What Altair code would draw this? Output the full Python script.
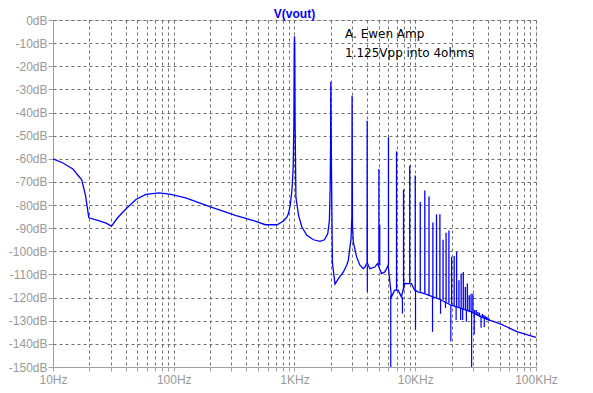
import altair as alt
import pandas as pd

# ---- continuous FFT trace (Hz, dB) ----
trace_freq = [10, 12.1, 14.6, 17.3, 18.6, 19.8, 23.5, 27.5, 30.5, 34.3,
              40.3, 48.6, 58.8, 75.7, 94.5, 125.6, 196, 324, 472, 573,
              718, 810, 865, 890, 921, 952, 975, 988, 995, 1000,
              1005, 1012, 1027, 1081, 1151, 1265, 1436, 1629, 1770, 1885,
              1946, 1975, 1990, 1997, 2000, 2003, 2020, 2060, 2166, 2310,
              2540, 2704, 2790, 2880, 2940, 2985, 2997, 3000, 3003, 3020,
              3069, 3268, 3480, 3712, 3830, 3990, 4000, 4010, 4207, 4625,
              4869, 5254, 5595, 5780, 5966, 6353, 6761, 7212, 7674, 8178,
              9289, 9886, 10540, 11953, 14020, 15420, 19850, 23990, 29000, 35080,
              42400, 51270, 70310, 100000]
trace_db = [-60.0, -61.8, -64.4, -69.1, -75.9, -85.5, -86.6, -87.8, -89.1, -85.5,
            -81.6, -77.6, -75.4, -74.7, -75.4, -76.9, -80.6, -84.5, -86.9, -88.5,
            -88.5, -86.9, -85.2, -83.8, -80.2, -73.7, -64.0, -45.0, -12.0, -7.0,
            -12.0, -45.0, -76.6, -84.5, -89.5, -93.1, -95.0, -95.7, -95.0, -92.4,
            -86.6, -72.0, -54.0, -30.0, -26.7, -30.0, -60.0, -105.0, -114.2, -111.8,
            -108.9, -106.0, -103.9, -98.1, -94.5, -85.0, -40.0, -32.8, -40.0, -88.0,
            -96.0, -102.4, -106.0, -107.5, -106.8, -105.0, -43.5, -105.0, -107.5, -106.8,
            -105.3, -109.6, -108.9, -107.5, -106.0, -119.7, -116.8, -116.8, -119.7, -113.9,
            -114.0, -116.8, -117.5, -118.3, -119.7, -120.4, -123.3, -124.7, -126.2, -128.3,
            -130.0, -131.5, -134.8, -137.2]

# ---- harmonic spikes (Hz, top dB, base dB) ----
spike_freq = [5000, 5080, 6000, 7000, 8000, 9000, 10000, 11000, 12000, 13000,
              14000, 15000, 16000, 17000, 18000, 19000, 20000, 21000, 22000, 23000,
              24000, 25000, 26000, 27000, 28000, 29000, 30000, 31000, 32000, 33000,
              34000, 35000, 36000, 37000, 38000, 39000, 40000, 41000]
spike_top = [-64.4, -88.5, -50.7, -56.8, -73.3, -62.9, -67.2, -78.7, -73.7, -76.3,
             -87.5, -84.0, -84.0, -95.0, -92.0, -91.0, -102.4, -102.0, -100.3, -112.5,
             -109.6, -108.9, -115.4, -113.9, -119.0, -118.3, -118.3, -125.4, -125.4, -126.2,
             -126.5, -127.6, -127.0, -127.5, -128.0, -128.3, -128.6, -129.0]
spike_base = [-106.0, -106.0, -106.0, -117.0, -117.0, -114.0, -116.5, -117.5, -118.0, -119.0,
              -119.7, -120.0, -120.5, -121.0, -122.0, -122.5, -123.0, -123.5, -124.0, -124.3,
              -124.7, -125.0, -125.3, -125.6, -126.0, -126.2, -126.5, -127.0, -127.3, -127.6,
              -128.0, -128.3, -128.7, -129.0, -129.3, -129.6, -129.8, -130.0]

# ---- downward dips (Hz, floor dB, bottom dB) ----
dip_freq = [4010, 6266, 7834, 10050, 13900, 16200, 17800, 19700, 21800, 23750,
            24700, 26500, 29300, 30800, 35080, 37300]
dip_top = [-106.0, -119.0, -119.7, -116.5, -119.7, -120.5, -121.8, -123.3, -123.8, -124.7,
           -124.9, -125.5, -126.2, -126.9, -128.3, -128.6]
dip_bottom = [-117.5, -150.0, -126.9, -134.0, -134.8, -127.0, -124.5, -139.0, -129.7, -129.7,
              -129.7, -130.4, -150.0, -136.0, -133.0, -132.7]

# ---- annotation ----
note_lines = ["A. Ewen Amp", "1.125Vpp into 4ohms"]
note_freq = [2620, 2620]
note_db = [-7.9, -15.9]

# ---- axes ----
x_grid_values = [m * 10 ** d for d in range(1, 5) for m in range(1, 10)] + [100000]
y_values = list(range(-150, 1, 10))

trace = pd.DataFrame({"f": trace_freq, "db": trace_db})
spikes = pd.DataFrame({"f": spike_freq, "top": spike_top, "base": spike_base})
dips = pd.DataFrame({"f": dip_freq, "top": dip_top, "bottom": dip_bottom})
notes = pd.DataFrame({"f": note_freq, "db": note_db, "t": note_lines})

BLUE = "#0000ff"
AX = "#a0a0a0"

label_expr = ("datum.value == 10 ? '10Hz' : datum.value == 100 ? '100Hz' : "
              "datum.value == 1000 ? '1KHz' : datum.value == 10000 ? '10KHz' : "
              "datum.value == 100000 ? '100KHz' : ''")

xscale = alt.Scale(type="log", domain=[10, 100000], nice=False)
yscale = alt.Scale(domain=[-150, 0], nice=False, zero=False)

xaxis = alt.Axis(values=x_grid_values, labelExpr=label_expr, title=None,
                 grid=True, gridDash=[3, 3], gridColor="#707070", gridOpacity=1,
                 domainColor=AX, tickColor=AX, tickSize=4, labelColor="#999999",
                 labelFont="Liberation Sans", labelFontSize=12, labelPadding=3,
                 labelOverlap=False, labelFlush=False)
yaxis = alt.Axis(values=y_values, labelExpr="datum.value + 'dB'", title=None,
                 grid=True, gridDash=[3, 3], gridColor="#707070", gridOpacity=1,
                 domainColor=AX, tickColor=AX, tickSize=5, labelColor="#999999",
                 labelFont="Liberation Sans", labelFontSize=12, labelPadding=1,
                 labelOverlap=False, labelFlush=False, tickCount=16)

line = alt.Chart(trace).mark_line(color=BLUE, strokeWidth=1.3).encode(
    x=alt.X("f:Q", scale=xscale, axis=xaxis),
    y=alt.Y("db:Q", scale=yscale, axis=yaxis),
)
spike_rules = alt.Chart(spikes).mark_rule(color=BLUE, strokeWidth=1.3).encode(
    x=alt.X("f:Q", scale=xscale, axis=xaxis),
    y=alt.Y("top:Q", scale=yscale, axis=yaxis),
    y2="base:Q",
)
dip_rules = alt.Chart(dips).mark_rule(color=BLUE, strokeWidth=1.2).encode(
    x=alt.X("f:Q", scale=xscale, axis=xaxis),
    y=alt.Y("top:Q", scale=yscale, axis=yaxis),
    y2="bottom:Q",
)
text = alt.Chart(notes).mark_text(align="left", baseline="alphabetic",
                                  font="DejaVu Sans", fontSize=12,
                                  color="#000000").encode(
    x=alt.X("f:Q", scale=xscale, axis=xaxis),
    y=alt.Y("db:Q", scale=yscale, axis=yaxis),
    text="t:N",
)

chart = alt.layer(line, spike_rules, dip_rules, text).properties(
    width=483, height=347,
    padding={"left": 0, "top": 0, "right": 0, "bottom": 0},
    title=alt.TitleParams("V(vout)", fontSize=12, fontWeight="bold", color=BLUE,
                          font="Liberation Sans", offset=-7, anchor="middle"),
).configure_view(stroke=AX, strokeWidth=1).configure_axisY(
    labelOverlap=False
).configure(background="white")

chart.save("out.html", embed_options={"renderer": "svg", "actions": False})
